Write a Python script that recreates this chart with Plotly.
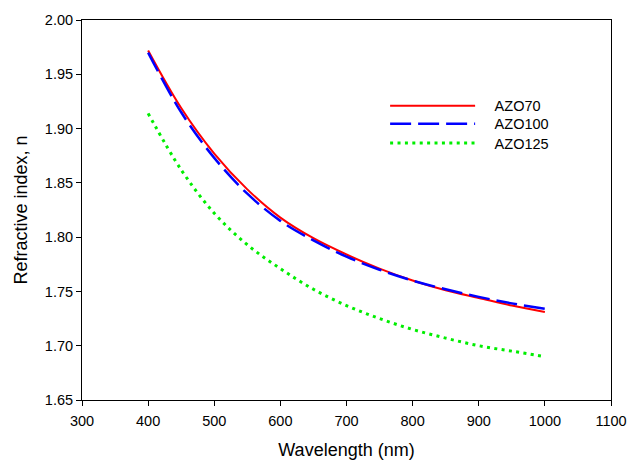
import plotly.graph_objects as go

wavelength = [400, 450, 500, 550, 600, 650, 700, 750, 800, 850, 900, 950, 1000]
azo70 = [1.972, 1.919, 1.877, 1.844, 1.818, 1.799, 1.784, 1.771, 1.760, 1.751, 1.744, 1.737, 1.731]
azo100 = [1.970, 1.915, 1.873, 1.840, 1.815, 1.797, 1.782, 1.770, 1.760, 1.752, 1.745, 1.739, 1.734]
azo125 = [1.914, 1.862, 1.822, 1.793, 1.771, 1.752, 1.737, 1.725, 1.715, 1.707, 1.700, 1.695, 1.690]

x_ticks = [300, 400, 500, 600, 700, 800, 900, 1000, 1100]
y_ticks = [1.65, 1.70, 1.75, 1.80, 1.85, 1.90, 1.95, 2.00]

FONT = "Liberation Sans, Arial, sans-serif"
SP = "\u2003"

fig = go.Figure()
fig.add_trace(go.Scatter(x=wavelength, y=azo70, name=SP + "AZO70", mode="lines", legend="legend",
                         line=dict(color="#ff0000", width=2, shape="spline")))
fig.add_trace(go.Scatter(x=wavelength, y=azo100, name=SP + "AZO100", mode="lines", legend="legend2",
                         line=dict(color="#0000ff", width=2.5, dash="21px,7px", shape="spline")))
fig.add_trace(go.Scatter(x=wavelength, y=azo125, name=SP + "AZO125", mode="lines", legend="legend3",
                         line=dict(color="#00ee00", width=3, dash="3px,4.4px", shape="spline")))

axis_common = dict(showline=True, linecolor="black", linewidth=1, mirror=True,
                   ticks="outside", ticklen=5, tickcolor="black", showgrid=False,
                   zeroline=False, ticklabeloverflow="allow",
                   tickfont=dict(family=FONT, size=14.5, color="black"))

leg_common = dict(x=0.573, xanchor="left", yanchor="middle", bgcolor="rgba(0,0,0,0)",
                  itemwidth=85, font=dict(family=FONT, size=14.5, color="black"))

fig.update_layout(
    width=628, height=463,
    paper_bgcolor="white", plot_bgcolor="white",
    margin=dict(l=82, r=17, t=19.5, b=62.5, autoexpand=False),
    showlegend=True,
    legend=dict(y=0.774, **leg_common),
    legend2=dict(y=0.727, **leg_common),
    legend3=dict(y=0.676, **leg_common),
    xaxis=dict(range=[300, 1100], tickvals=x_ticks, ticktext=[str(v) for v in x_ticks],
               ticklabelstandoff=3,
               title=dict(text="Wavelength (nm)", font=dict(family=FONT, size=18, color="black"), standoff=14),
               **axis_common),
    yaxis=dict(range=[1.65, 2.00], tickvals=y_ticks, ticktext=[f"{v:.2f}" for v in y_ticks],
               title=dict(text="Refractive index, n", font=dict(family=FONT, size=18, color="black"), standoff=12),
               **axis_common),
)

fig.write_html("out.html", config={"displayModeBar": False},
               post_script="document.body.style.margin='0';")
